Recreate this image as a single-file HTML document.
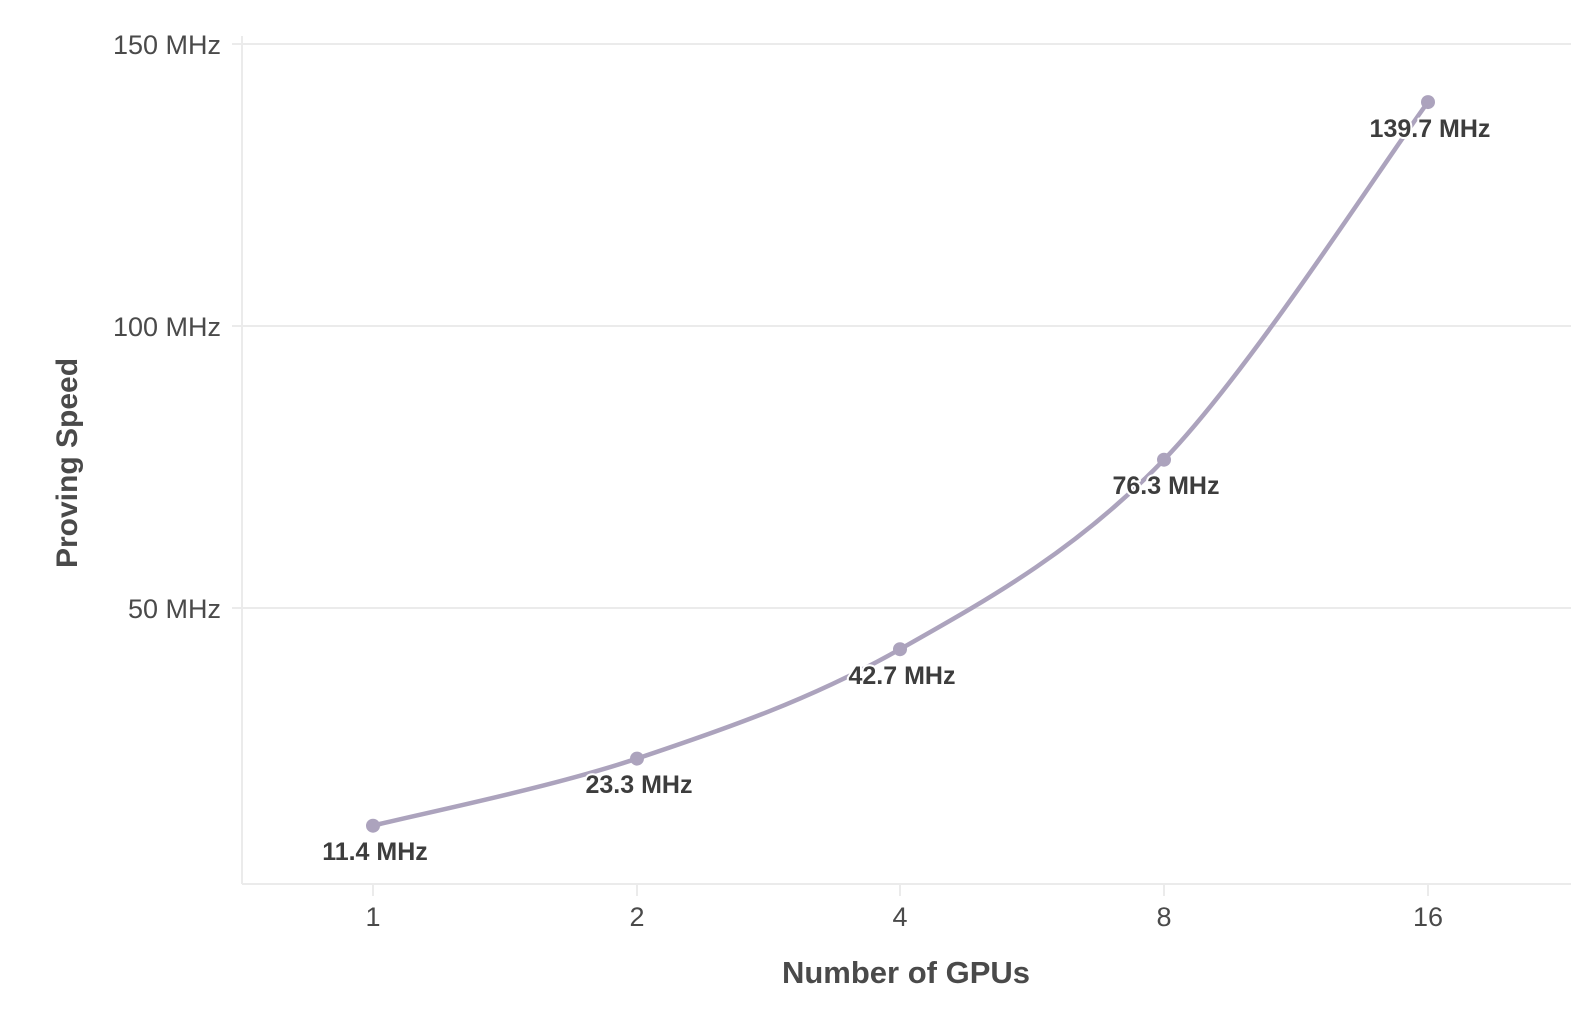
<!DOCTYPE html>
<html><head><meta charset="utf-8"><style>
html,body{margin:0;padding:0;background:#fff;}
svg{display:block;font-family:"Liberation Sans",sans-serif;}
</style></head><body>
<svg width="1588" height="1024" viewBox="0 0 1588 1024">
<g stroke="#ebebeb" stroke-width="2">
<line x1="232" y1="44" x2="1571" y2="44"/>
<line x1="232" y1="326" x2="1571" y2="326"/>
<line x1="232" y1="608" x2="1571" y2="608"/>
<line x1="242" y1="36" x2="242" y2="884"/>
<line x1="242" y1="884" x2="1571" y2="884"/>
<line x1="373" y1="884" x2="373" y2="896"/>
<line x1="637" y1="884" x2="637" y2="896"/>
<line x1="900" y1="884" x2="900" y2="896"/>
<line x1="1164" y1="884" x2="1164" y2="896"/>
<line x1="1428" y1="884" x2="1428" y2="896"/>
</g>
<g fill="#4a4a4a" font-size="27" text-anchor="end">
<text x="221" y="54">150 MHz</text>
<text x="221" y="336">100 MHz</text>
<text x="221" y="618">50 MHz</text>
</g>
<g fill="#4a4a4a" font-size="27" text-anchor="middle">
<text x="373" y="926">1</text>
<text x="637" y="926">2</text>
<text x="900" y="926">4</text>
<text x="1164" y="926">8</text>
<text x="1428" y="926">16</text>
</g>
<text x="906" y="983" text-anchor="middle" font-size="31" font-weight="bold" fill="#4a4a4a">Number of GPUs</text>
<text transform="translate(77,463) rotate(-90)" text-anchor="middle" font-size="30" font-weight="bold" fill="#4a4a4a">Proving Speed</text>
<path d="M373,825.7 C417,814.5 549,788 637,758.6 C725,729.2 812,699 900,649.2 C988,599.4 1076,550.9 1164,459.7 C1252,368.5 1384,161.7 1428,102.1" fill="none" stroke="#aca3bd" stroke-width="4.5"/>
<g fill="#aca3bd">
<circle cx="373" cy="825.7" r="7"/>
<circle cx="637" cy="758.6" r="7"/>
<circle cx="900" cy="649.2" r="7"/>
<circle cx="1164" cy="459.7" r="7"/>
<circle cx="1428" cy="102.1" r="7"/>
</g>
<g fill="#3d3d3d" font-size="25" font-weight="bold" text-anchor="middle" stroke="#fff" stroke-width="4" paint-order="stroke" stroke-linejoin="round">
<text x="375" y="860">11.4 MHz</text>
<text x="639" y="793">23.3 MHz</text>
<text x="902" y="684">42.7 MHz</text>
<text x="1166" y="494">76.3 MHz</text>
<text x="1430" y="137">139.7 MHz</text>
</g>
</svg>
</body></html>
